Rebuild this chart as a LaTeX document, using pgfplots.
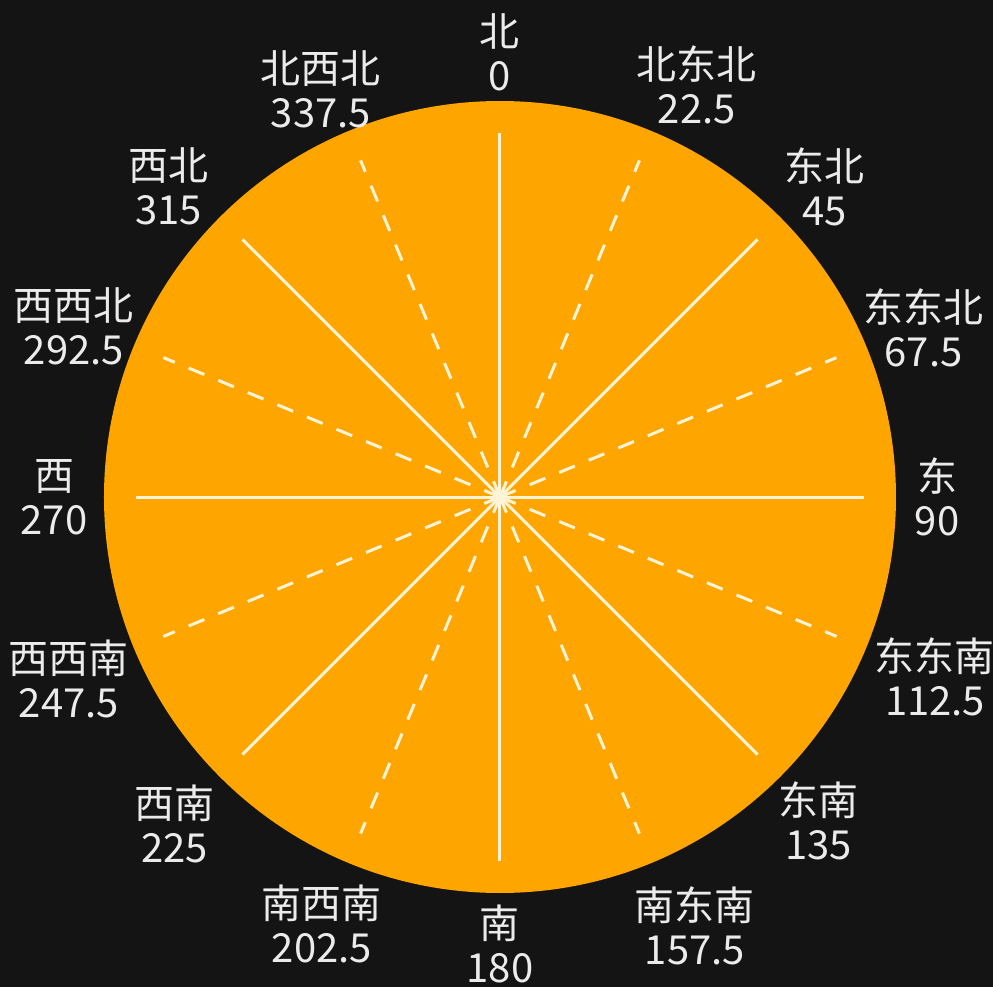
\documentclass[border=0pt]{standalone}
\usepackage{fontspec}
\usepackage{pgfplots}
\pgfplotsset{compat=1.18}
\usepgfplotslibrary{polar}
\newfontfamily\cjk{Noto Sans CJK SC}
\definecolor{bg}{RGB}{20,20,20}
\definecolor{disk}{RGB}{255,165,0}
\definecolor{spoke}{RGB}{255,244,214}
\definecolor{lbl}{RGB}{235,235,235}
\tikzset{lab/.style={align=center, font=\cjk\fontsize{20}{22}\selectfont, text=lbl, anchor=center, inner sep=0pt}}
\begin{document}
\begin{tikzpicture}
\fill[bg] (0,0) rectangle (496.5pt,493.5pt);
\begin{polaraxis}[
  at={(250pt,245pt)}, anchor=origin,
  scale only axis, width=396pt, height=396pt,
  xmin=0, xmax=360, ymin=0, ymax=1,
  axis line style={draw=none, fill=disk},
  xmajorgrids=false, ymajorgrids=false,
  xtick=\empty, ytick=\empty,
  clip=false,
]
% solid spokes (cardinal and intercardinal)
\addplot[spoke, line width=1.5pt] coordinates {(0,0) (0,0.92)};
\addplot[spoke, line width=1.5pt] coordinates {(45,0) (45,0.92)};
\addplot[spoke, line width=1.5pt] coordinates {(90,0) (90,0.92)};
\addplot[spoke, line width=1.5pt] coordinates {(135,0) (135,0.92)};
\addplot[spoke, line width=1.5pt] coordinates {(180,0) (180,0.92)};
\addplot[spoke, line width=1.5pt] coordinates {(225,0) (225,0.92)};
\addplot[spoke, line width=1.5pt] coordinates {(270,0) (270,0.92)};
\addplot[spoke, line width=1.5pt] coordinates {(315,0) (315,0.92)};
% dashed spokes
\addplot[spoke, line width=1.5pt, dash pattern=on 8.5pt off 7.5pt] coordinates {(22.5,0) (22.5,0.92)};
\addplot[spoke, line width=1.5pt, dash pattern=on 8.5pt off 7.5pt] coordinates {(67.5,0) (67.5,0.92)};
\addplot[spoke, line width=1.5pt, dash pattern=on 8.5pt off 7.5pt] coordinates {(112.5,0) (112.5,0.92)};
\addplot[spoke, line width=1.5pt, dash pattern=on 8.5pt off 7.5pt] coordinates {(157.5,0) (157.5,0.92)};
\addplot[spoke, line width=1.5pt, dash pattern=on 8.5pt off 7.5pt] coordinates {(202.5,0) (202.5,0.92)};
\addplot[spoke, line width=1.5pt, dash pattern=on 8.5pt off 7.5pt] coordinates {(247.5,0) (247.5,0.92)};
\addplot[spoke, line width=1.5pt, dash pattern=on 8.5pt off 7.5pt] coordinates {(292.5,0) (292.5,0.92)};
\addplot[spoke, line width=1.5pt, dash pattern=on 8.5pt off 7.5pt] coordinates {(337.5,0) (337.5,0.92)};
% direction labels (angle counter-clockwise from east, radius)
\node[lab] at (axis cs:0,1.104)     {东\\90};
\node[lab, xshift=2pt, yshift=-2.25pt] at (axis cs:22.5,1.147)  {东东北\\67.5};
\node[lab, xshift=5.5pt, yshift=-1.75pt] at (axis cs:45,1.121)    {东北\\45};
\node[lab, xshift=11.5pt, yshift=-3.75pt] at (axis cs:67.5,1.147)  {北东北\\22.5};
\node[lab] at (axis cs:90,1.124)    {北\\0};
\node[lab, xshift=-3.5pt, yshift=-3.75pt] at (axis cs:112.5,1.136) {北西北\\337.5};
\node[lab, xshift=-7pt, yshift=-3.5pt] at (axis cs:135,1.134)   {西北\\315};
\node[lab, xshift=-0.5pt, yshift=-2.75pt] at (axis cs:157.5,1.162) {西西北\\292.5};
\node[lab] at (axis cs:180,1.126)   {西\\270};
\node[lab, xshift=1pt, yshift=-1.25pt] at (axis cs:202.5,1.184) {西西南\\247.5};
\node[lab, yshift=-0.75pt] at (axis cs:225,1.162)   {西南\\225};
\node[lab, xshift=-2pt, yshift=-3.5pt] at (axis cs:247.5,1.149) {南西南\\202.5};
\node[lab, yshift=1.25pt] at (axis cs:270,1.136)   {南\\180};
\node[lab, xshift=9pt, yshift=-1pt] at (axis cs:292.5,1.167) {南东南\\157.5};
\node[lab, xshift=-2.25pt, yshift=-0.5pt] at (axis cs:315,1.154)   {东南\\135};
\node[lab] at (axis cs:337.5,1.189) {东东南\\112.5};
\end{polaraxis}
\pgfresetboundingbox
\path[use as bounding box] (0,0) rectangle (496.5pt,493.5pt);
\end{tikzpicture}
\end{document}
